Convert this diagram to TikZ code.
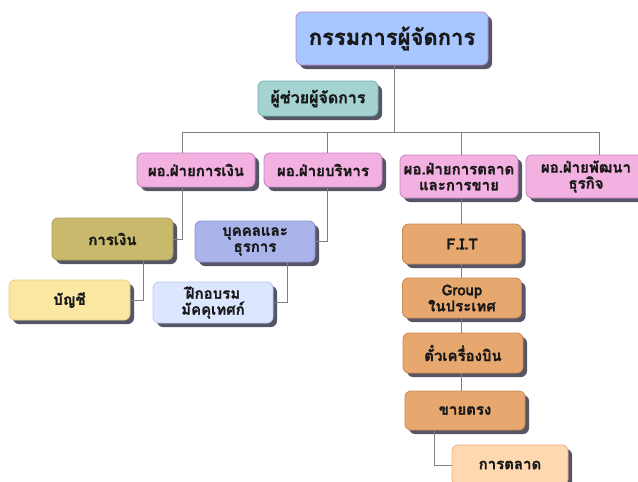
\documentclass[tikz,border=0pt]{standalone}
\usepackage{fontspec}
\setmainfont{Loma}[Script=Thai, BoldFeatures={FakeBold=1.2}]
\usepackage{tikz}
\usetikzlibrary{shadows}

\definecolor{titlefill}{HTML}{A8C6FF}
\definecolor{titleline}{HTML}{B48CCC}
\definecolor{asstfill}{HTML}{A5D3D1}
\definecolor{asstline}{HTML}{72B2B2}
\definecolor{dirfill}{HTML}{F2B1E0}
\definecolor{dirline}{HTML}{C684BE}
\definecolor{finfill}{HTML}{C9B96C}
\definecolor{finline}{HTML}{A89A52}
\definecolor{hrfill}{HTML}{AAB4EA}
\definecolor{hrline}{HTML}{8A94D2}
\definecolor{accfill}{HTML}{FAE8A2}
\definecolor{accline}{HTML}{E6D084}
\definecolor{trainfill}{HTML}{DCE6FF}
\definecolor{trainline}{HTML}{B8C8F0}
\definecolor{salefill}{HTML}{E6A86F}
\definecolor{saleline}{HTML}{C98A52}
\definecolor{mktgfill}{HTML}{FDD8B1}
\definecolor{mktgline}{HTML}{EEAE7C}
\definecolor{shade}{HTML}{555566}
\definecolor{wire}{HTML}{808080}

\tikzset{
    box/.style={rectangle, rounded corners=6pt, line width=0.8pt, inner sep=2pt,
        align=center, font=\bfseries\fontsize{15}{16}\selectfont, text=black!90,
        drop shadow={shadow xshift=4pt, shadow yshift=-4pt, fill=shade, opacity=1}},
    wirestyle/.style={draw=wire, line width=0.9pt}
}

\begin{document}
\begin{tikzpicture}[x=1pt, y=-1pt]
        \useasboundingbox (0,0) rectangle (638,482);
        \clip (0,0) rectangle (638,482);

        % top
        \node[box, fill=titlefill, draw=titleline, minimum width=192pt, minimum height=53pt,
            font=\bfseries\fontsize{22}{24}\selectfont] (mgr) at (392, 38.5) {กรรมการผู้จัดการ};
        \node[box, fill=asstfill, draw=asstline, minimum width=120pt, minimum height=35pt,
            font=\bfseries\fontsize{16}{18}\selectfont] (asst) at (318, 98.5) {ผู้ช่วยผู้จัดการ};

        % directors
        \node[box, fill=dirfill, draw=dirline, minimum width=118pt, minimum height=34pt] (findir) at (196, 170) {ผอ.ฝ่ายการเงิน};
        \node[box, fill=dirfill, draw=dirline, minimum width=118pt, minimum height=34pt] (admdir) at (323, 170) {ผอ.ฝ่ายบริหาร};
        \node[box, fill=dirfill, draw=dirline, minimum width=118pt, minimum height=43pt] (mktdir) at (459, 176.5) {ผอ.ฝ่ายการตลาด\\และการขาย};
        \node[box, fill=dirfill, draw=dirline, minimum width=120pt, minimum height=43pt] (devdir) at (586, 176.5) {ผอ.ฝ่ายพัฒนา\\ธุรกิจ};

        % departments
        \node[box, fill=finfill, draw=finline, minimum width=121pt, minimum height=42pt] (fin) at (112.5, 239) {การเงิน};
        \node[box, fill=hrfill, draw=hrline, minimum width=120pt, minimum height=41pt] (hr) at (255, 241.5) {บุคคลและ\\ธุรการ};
        \node[box, fill=accfill, draw=accline, minimum width=121pt, minimum height=40pt] (acc) at (69.5, 300) {บัญชี};
        \node[box, fill=trainfill, draw=trainline, minimum width=120pt, minimum height=41pt] (train) at (213, 302.5) {ฝึกอบรม\\มัคคุเทศก์};

        \node[box, fill=salefill, draw=saleline, minimum width=119pt, minimum height=40pt] (fit) at (462, 244) {F.I.T};
        \node[box, fill=salefill, draw=saleline, minimum width=119pt, minimum height=40pt] (group) at (462, 298) {Group\\ในประเทศ};
        \node[box, fill=salefill, draw=saleline, minimum width=120pt, minimum height=40pt] (ticket) at (463, 353) {ตั๋วเครื่องบิน};
        \node[box, fill=salefill, draw=saleline, minimum width=120pt, minimum height=39pt] (direct) at (465, 410.5) {ขายตรง};
        \node[box, fill=mktgfill, draw=mktgline, minimum width=116pt, minimum height=40pt] (mktg) at (510, 465) {การตลาด};

        \coordinate (b1) at (182, 132);
        \coordinate (b2) at (327, 132);
        \coordinate (b3) at (461, 132);
        \coordinate (b4) at (599, 132);

        \draw[wirestyle] (mgr.south -| 394,0) -- (b4 -| 394,0)
            (b1) -- (b4)
            (b1) -- (findir.north -| b1)
            (b2) -- (admdir.north -| b2)
            (b3) -- (mktdir.north -| b3)
            (b4) -- (devdir.north -| b4)
            (findir.south -| b1) |- (fin.east)
            (admdir.south -| b2) |- (hr.east)
            (fin.south -| 143,0) |- (acc.east)
            (hr.south -| 287,0) |- (train.east)
            (mktdir.south -| b3) -- (fit.north -| b3)
            (fit.south -| b3) -- (group.north -| b3)
            (group.south -| b3) -- (ticket.north -| b3)
            (ticket.south -| b3) -- (direct.north -| b3)
            (direct.south -| 434,0) |- (mktg.west);
    \end{tikzpicture}
\end{document}
